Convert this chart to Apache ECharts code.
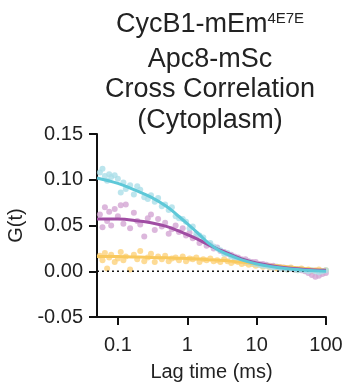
<!DOCTYPE html>
<html>
<head>
<meta charset="utf-8">
<script src="https://cdn.jsdelivr.net/npm/echarts@6/dist/echarts.min.js"></script>
<style>
	html, body { margin: 0; padding: 0; background: #fff; }
	#main { width: 348px; height: 390px; }
</style>
</head>
<body>
<div id="main"></div>
<script>
	// lag times (ms) of the measured points
	var lagTimes = [0.055, 0.06, 0.065, 0.07, 0.075, 0.08, 0.09, 0.1, 0.11, 0.12, 0.13, 0.15, 0.17, 0.19, 0.21, 0.24, 0.27, 0.3, 0.34, 0.38,
		0.43, 0.48, 0.54, 0.6, 0.68, 0.76, 0.86, 0.96, 1.08, 1.2, 1.35, 1.5, 1.7, 1.9, 2.15, 2.4, 2.7, 3.0, 3.4, 3.8,
		4.3, 4.8, 5.4, 6.1, 6.9, 7.7, 8.7, 9.7, 11, 12.3, 13.8, 15.5, 17.4, 19.6, 22, 24.7, 27.8, 31.2, 35, 39.3,
		44.2, 49.6, 55.7, 62.6, 70.3, 79, 88.7, 99.6];
	// CycB1 (cyan) points
	var cyanPts = [0.108, 0.112, 0.104, 0.099, 0.106, 0.103, 0.105, 0.101, 0.086, 0.097, 0.090, 0.094, 0.084, 0.093, 0.089, 0.081, 0.079, 0.083, 0.076, 0.080,
		0.071, 0.073, 0.067, 0.070, 0.060, 0.058, 0.057, 0.054, 0.047, 0.049, 0.041, 0.039, 0.037, 0.031, 0.031, 0.027, 0.025, 0.023, 0.019, 0.020,
		0.016, 0.015, 0.013, 0.012, 0.011, 0.010, 0.009, 0.008, 0.007, 0.006, 0.006, 0.005, 0.004, 0.005, 0.003, 0.003, 0.002, 0.003, 0.002, 0.001,
		0.002, 0.001, 0.000, 0.001, 0.000, -0.001, 0.000, 0.001];
	// Apc8 (purple) points
	var purplePts = [0.062, 0.048, 0.070, 0.055, 0.065, 0.050, 0.068, 0.060, 0.072, 0.052, 0.073, 0.047, 0.064, 0.055, 0.051, 0.038, 0.058, 0.062, 0.045, 0.057,
		0.049, 0.053, 0.041, 0.046, 0.050, 0.043, 0.047, 0.039, 0.042, 0.036, 0.038, 0.031, 0.033, 0.028, 0.029, 0.025, 0.026, 0.022, 0.021, 0.019,
		0.018, 0.016, 0.015, 0.013, 0.013, 0.011, 0.010, 0.010, 0.008, 0.008, 0.007, 0.006, 0.006, 0.005, 0.004, 0.004, 0.003, 0.003, 0.002, 0.002,
		0.001, 0.000, -0.002, -0.004, -0.006, -0.005, -0.003, -0.002];
	// cross correlation (yellow) points
	var yellowPts = [0.017, 0.012, 0.020, 0.003, 0.015, 0.018, 0.010, 0.014, 0.021, 0.012, 0.016, 0.002, 0.018, 0.013, 0.022, 0.011, 0.015, 0.019, 0.010, 0.016,
		0.013, 0.017, 0.011, 0.014, 0.015, 0.012, 0.016, 0.011, 0.014, 0.013, 0.015, 0.010, 0.013, 0.012, 0.014, 0.011, 0.012, 0.010, 0.013, 0.011,
		0.009, 0.011, 0.010, 0.008, 0.009, 0.007, 0.008, 0.006, 0.007, 0.005, 0.006, 0.004, 0.005, 0.003, 0.004, 0.003, 0.002, 0.004, 0.002, 0.001,
		0.003, 0.001, 0.002, 0.000, 0.001, 0.002, 0.000, 0.001];

	// fitted curves, read at these lag times
	var fitTimes = [0.05, 0.1, 0.2, 0.3, 0.5, 0.7, 1, 1.5, 2, 3, 5, 7, 10, 20, 50, 100];
	var cyanFit = [0.102, 0.096, 0.087, 0.081, 0.071, 0.062, 0.052, 0.040, 0.031, 0.022, 0.015, 0.011, 0.008, 0.004, 0.001, 0.000];
	var purpleFit = [0.057, 0.057, 0.055, 0.053, 0.049, 0.045, 0.040, 0.034, 0.029, 0.023, 0.016, 0.012, 0.009, 0.005, 0.002, 0.001];
	var yellowFit = [0.016, 0.016, 0.0155, 0.015, 0.0147, 0.0143, 0.014, 0.0133, 0.0127, 0.012, 0.0105, 0.0095, 0.008, 0.006, 0.003, 0.001];

	var xTicks = [0.1, 1, 10, 100];
	var zeroLine = [[0.05, 0], [100, 0]];

	function pairs(xs, ys) {
		var out = [];
		for (var i = 0; i < xs.length; i++) {
			out.push([xs[i], ys[i]]);
		}
		return out;
	}

	var font = 'Liberation Sans, Arial, sans-serif';

	function pointSeries(data, color) {
		return {
			type: 'scatter',
			data: data,
			symbolSize: 6,
			itemStyle: { color: color },
			silent: true
		};
	}

	function fitSeries(data, color) {
		return {
			type: 'line',
			data: data,
			smooth: 0.4,
			showSymbol: false,
			lineStyle: { color: color, width: 3 },
			silent: true
		};
	}

	var chart = echarts.init(document.getElementById('main'));
	var option = {
		animation: false,
		graphic: [
			{ type: 'text', x: 210, y: 25, style: { text: 'CycB1-mEm{sup|4E7E}', textAlign: 'center', textVerticalAlign: 'middle', font: '27px ' + font, fill: '#222',
				rich: { sup: { fontSize: 15, fontFamily: font, verticalAlign: 'top', fill: '#222' } } } },
			{ type: 'text', x: 210, y: 60, style: { text: 'Apc8-mSc', textAlign: 'center', textVerticalAlign: 'middle', font: '27px ' + font, fill: '#222' } },
			{ type: 'text', x: 210, y: 90, style: { text: 'Cross Correlation', textAlign: 'center', textVerticalAlign: 'middle', font: '27px ' + font, fill: '#222' } },
			{ type: 'text', x: 210, y: 121, style: { text: '(Cytoplasm)', textAlign: 'center', textVerticalAlign: 'middle', font: '27px ' + font, fill: '#222' } }
		],
		grid: { left: 97, right: 22, top: 134, bottom: 73, outerBoundsMode: 'none' },
		xAxis: {
			type: 'log',
			logBase: 10,
			min: 0.05,
			max: 100,
			name: 'Lag time (ms)',
			nameLocation: 'middle',
			nameGap: 45,
			nameTextStyle: { fontSize: 20, color: '#222', fontFamily: font },
			axisLine: { onZero: false, lineStyle: { color: '#111', width: 2 } },
			axisTick: { customValues: xTicks, length: 8, lineStyle: { color: '#111', width: 2 } },
			axisLabel: { customValues: xTicks, fontSize: 20, color: '#222', fontFamily: font, margin: 18 },
			splitLine: { show: false },
			minorTick: { show: false }
		},
		yAxis: {
			type: 'value',
			min: -0.05,
			max: 0.15,
			interval: 0.05,
			name: 'G(t)',
			nameLocation: 'middle',
			nameGap: 66,
			nameTextStyle: { fontSize: 20, color: '#222', fontFamily: font },
			axisLine: { show: true, onZero: false, lineStyle: { color: '#111', width: 2 } },
			axisTick: { show: true, length: 8, lineStyle: { color: '#111', width: 2 } },
			axisLabel: {
				fontSize: 20, color: '#222', fontFamily: font, margin: 14,
				formatter: function(v) { return v.toFixed(2); }
			},
			splitLine: { show: false }
		},
		series: [
			{
				type: 'line',
				data: zeroLine,
				showSymbol: false,
				lineStyle: { color: '#111', width: 1.5, type: [2, 3] },
				silent: true
			},
			pointSeries(pairs(lagTimes, yellowPts), '#FDD27C'),
			pointSeries(pairs(lagTimes, purplePts), '#D3A5D3'),
			pointSeries(pairs(lagTimes, cyanPts), '#ABDFE8'),
			fitSeries(pairs(fitTimes, yellowFit), '#F9C95E'),
			fitSeries(pairs(fitTimes, purpleFit), '#A04DA3'),
			fitSeries(pairs(fitTimes, cyanFit), '#5EC8D8')
		]
	};
	chart.setOption(option);
</script>
</body>
</html>
